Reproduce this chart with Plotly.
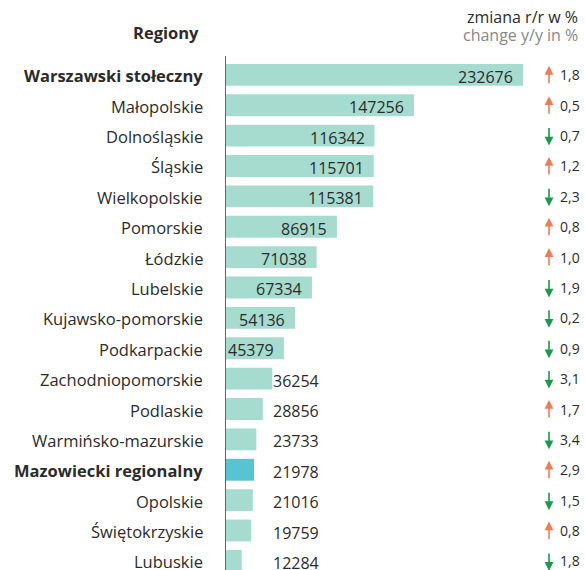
import plotly.graph_objects as go

regions = ["Warszawski stołeczny", "Małopolskie", "Dolnośląskie", "Śląskie", "Wielkopolskie",
           "Pomorskie", "Łódzkie", "Lubelskie", "Kujawsko-pomorskie", "Podkarpackie",
           "Zachodniopomorskie", "Podlaskie", "Warmińsko-mazurskie", "Mazowiecki regionalny",
           "Opolskie", "Świętokrzyskie", "Lubuskie"]
values = [232676, 147256, 116342, 115701, 115381, 86915, 71038, 67334, 54136, 45379,
          36254, 28856, 23733, 21978, 21016, 19759, 12284]
change = [1.8, 0.5, -0.7, 1.2, -2.3, 0.8, 1.0, -1.9, -0.2, -0.9,
          -3.1, 1.7, -3.4, 2.9, -1.5, 0.8, -1.8]
bold_regions = ["Warszawski stołeczny", "Mazowiecki regionalny"]
highlight_region = "Mazowiecki regionalny"

FONT = "Open Sans"
TXT = "#2b2b2b"
BAR = "#a6dbd0"
BAR_HI = "#56c4d3"
UP = "#f27a55"
DOWN = "#1a9a4a"
INSIDE_MIN = 40000
OUTSIDE_X = 55000

idx = list(range(len(regions)))
colors = [BAR_HI if r == highlight_region else BAR for r in regions]
labels = [f"<b>{r}</b>" if r in bold_regions else r for r in regions]

fig = go.Figure(go.Bar(
    x=values, y=idx, orientation="h", marker=dict(color=colors, line_width=0),
    width=0.72, hoverinfo="skip"))

ann = []
for i, (lab, v, c) in enumerate(zip(labels, values, change)):
    ann.append(dict(x=0, y=i, xref="paper", yref="y", text=lab, showarrow=False,
                    xanchor="right", xshift=-21, yshift=-1,
                    font=dict(size=16.5, color=TXT, family=FONT)))
    if v >= INSIDE_MIN:
        ann.append(dict(x=v, y=i, xref="x", yref="y", text=str(v), showarrow=False,
                        xanchor="right", xshift=-8, yshift=-2,
                        font=dict(size=16, color=TXT, family=FONT)))
    else:
        ann.append(dict(x=OUTSIDE_X, y=i, xref="x", yref="y", text=str(v), showarrow=False,
                        xanchor="center", yshift=-2,
                        font=dict(size=16, color=TXT, family=FONT)))
    up = c > 0
    ann.append(dict(x=1.0287, y=i, xref="paper", yref="y", text="", showarrow=True,
                    ax=0, ay=19 if up else -19, yshift=9 if up else -10,
                    arrowhead=2, arrowsize=1.1, arrowwidth=1.6,
                    arrowcolor=UP if up else DOWN))
    ann.append(dict(x=1.057, y=i, xref="paper", yref="y",
                    text=f"{abs(c):.1f}".replace(".", ","), showarrow=False,
                    xanchor="left", font=dict(size=14, color=TXT, family=FONT)))

fig.update_layout(
    width=585, height=570,
    margin=dict(l=226, r=45, t=56, b=0),
    paper_bgcolor="white", plot_bgcolor="white",
    showlegend=False,
    xaxis=dict(range=[0, 246000], visible=False),
    yaxis=dict(range=[16.3, -0.62], showticklabels=False,
               showline=True, linecolor="#666", linewidth=1, ticks="", showgrid=False,
               zeroline=False),
    annotations=ann,
)

fig.add_annotation(x=-0.08, y=1, xref="paper", yref="paper", xanchor="right", yanchor="bottom",
                   yshift=10, text="<b>Regiony</b>", showarrow=False,
                   font=dict(size=16.5, color=TXT, family=FONT))
fig.add_annotation(x=1.127, y=1, xref="paper", yref="paper", xanchor="right", yanchor="bottom",
                   yshift=26, text="zmiana r/r w %", showarrow=False,
                   font=dict(size=16, color=TXT, family=FONT))
fig.add_annotation(x=1.127, y=1, xref="paper", yref="paper", xanchor="right", yanchor="bottom",
                   yshift=8, text="change y/y in %", showarrow=False,
                   font=dict(size=16, color="#888888", family=FONT))

fig.write_html("out.html", config={"displayModeBar": False},
               post_script="document.body.style.margin='0';")
